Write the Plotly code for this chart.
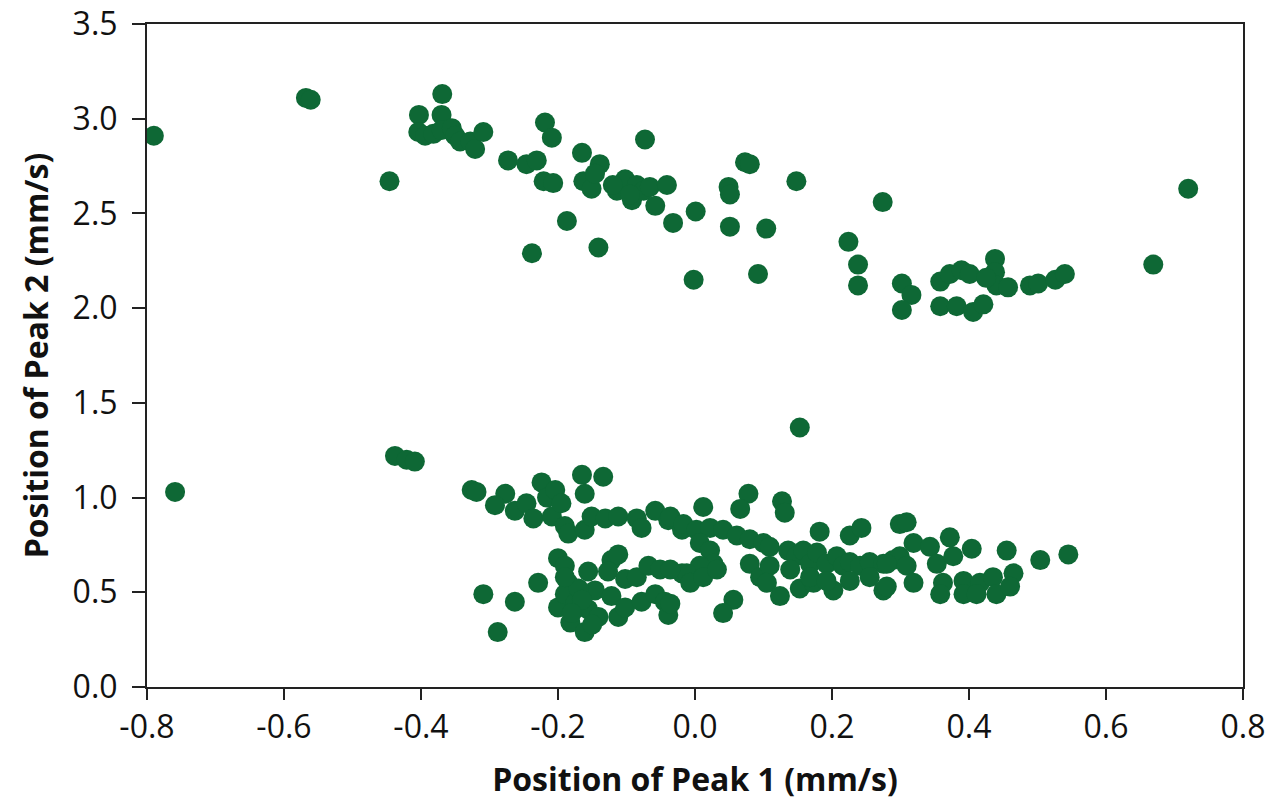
import plotly.graph_objects as go

# Upper group (Peak 2 around 2-3.1 mm/s)
upper_x = [-0.790, -0.568, -0.561, -0.446, -0.369, -0.403, -0.370, -0.404, -0.394, -0.382,
           -0.370, -0.355, -0.350, -0.343, -0.328, -0.321, -0.309, -0.273, -0.246, -0.231,
           -0.219, -0.209, -0.221, -0.207, -0.238, -0.187, -0.165, -0.139, -0.073, -0.163,
           -0.151, -0.146, -0.114, -0.102, -0.092, -0.085, -0.075, -0.066, -0.058, -0.041,
           -0.141, -0.032, 0.001, -0.002, 0.049, 0.051, 0.073, 0.080, 0.051, 0.104,
           0.148, 0.092, 0.274, 0.224, 0.238, 0.238, 0.302, 0.316, 0.302, 0.358,
           0.372, 0.389, 0.401, 0.358, 0.382, 0.406, 0.421, 0.438, 0.438, 0.440,
           0.457, 0.489, 0.501, 0.526, 0.540, 0.669, 0.720, 0.425, -0.120, -0.095]
upper_y = [2.91, 3.11, 3.10, 2.67, 3.13, 3.02, 3.02, 2.93, 2.91, 2.92,
           2.94, 2.95, 2.91, 2.88, 2.88, 2.84, 2.93, 2.78, 2.76, 2.78,
           2.98, 2.90, 2.67, 2.66, 2.29, 2.46, 2.82, 2.76, 2.89, 2.67,
           2.63, 2.71, 2.62, 2.68, 2.57, 2.65, 2.62, 2.64, 2.54, 2.65,
           2.32, 2.45, 2.51, 2.15, 2.64, 2.60, 2.77, 2.76, 2.43, 2.42,
           2.67, 2.18, 2.56, 2.35, 2.23, 2.12, 2.13, 2.07, 1.99, 2.14,
           2.18, 2.20, 2.18, 2.01, 2.01, 1.98, 2.02, 2.26, 2.19, 2.12,
           2.11, 2.12, 2.13, 2.15, 2.18, 2.23, 2.63, 2.16, 2.65, 2.60]

# Lower group (Peak 2 around 0.3-1.4 mm/s)
lower_x = [-0.759, -0.438, -0.421, -0.409, -0.326, -0.319, -0.277, -0.292, -0.263, -0.246,
           -0.236, -0.224, -0.216, -0.204, -0.209, -0.195, -0.190, -0.185, -0.165, -0.161,
           -0.161, -0.134, -0.151, -0.131, -0.112, -0.085, -0.078, -0.058, -0.039, -0.019,
           -0.309, -0.263, -0.288, -0.229, -0.200, -0.190, -0.156, -0.122, -0.112, -0.127,
           -0.102, -0.085, -0.068, -0.051, -0.019, -0.200, -0.185, -0.190, -0.175, -0.182,
           -0.161, -0.156, -0.146, -0.141, -0.122, -0.112, -0.102, -0.078, -0.058, -0.044,
           -0.039, -0.170, -0.165, -0.180, -0.150, -0.190,
           0.153, 0.012, 0.078, 0.066, 0.127, 0.131, -0.036, -0.017, 0.002, 0.022,
           0.041, 0.061, 0.080, 0.100, 0.109, 0.007, 0.022, 0.027, 0.007, -0.012,
           -0.007, 0.012, 0.032, -0.036, -0.036, 0.080, 0.095, 0.109, 0.105, 0.124,
           0.056, 0.041, 0.136, 0.148, 0.158, 0.168, 0.178, 0.192, 0.207, 0.216,
           0.226, 0.241, 0.255, 0.275, 0.289, 0.299, 0.182, 0.226, 0.243, 0.299,
           0.153, 0.173, 0.202, 0.275, 0.139, 0.168, 0.192, 0.226, 0.255,
           0.309, 0.319, 0.343, 0.372, 0.404, 0.455, 0.504, 0.545, 0.280, 0.280,
           0.309, 0.319, 0.353, 0.362, 0.377, 0.358, 0.392, 0.392, 0.416, 0.435,
           0.440, 0.465, 0.460, 0.411]
lower_y = [1.03, 1.22, 1.20, 1.19, 1.04, 1.03, 1.02, 0.96, 0.93, 0.97,
           0.89, 1.08, 1.00, 1.04, 0.90, 0.97, 0.85, 0.81, 1.12, 1.02,
           0.83, 1.11, 0.90, 0.89, 0.90, 0.89, 0.84, 0.93, 0.88, 0.83,
           0.49, 0.45, 0.29, 0.55, 0.68, 0.64, 0.61, 0.67, 0.70, 0.61,
           0.57, 0.58, 0.64, 0.62, 0.60, 0.42, 0.55, 0.49, 0.44, 0.34,
           0.29, 0.41, 0.51, 0.37, 0.48, 0.37, 0.42, 0.45, 0.49, 0.45,
           0.38, 0.52, 0.46, 0.39, 0.33, 0.58,
           1.37, 0.95, 1.02, 0.94, 0.98, 0.92, 0.90, 0.86, 0.83, 0.84,
           0.83, 0.80, 0.78, 0.76, 0.74, 0.76, 0.72, 0.65, 0.64, 0.60,
           0.55, 0.58, 0.62, 0.62, 0.44, 0.65, 0.58, 0.64, 0.55, 0.48,
           0.46, 0.39, 0.72, 0.69, 0.72, 0.65, 0.71, 0.65, 0.69, 0.64,
           0.66, 0.64, 0.66, 0.65, 0.67, 0.69, 0.82, 0.80, 0.84, 0.86,
           0.52, 0.55, 0.51, 0.51, 0.62, 0.58, 0.56, 0.56, 0.58,
           0.87, 0.76, 0.74, 0.79, 0.73, 0.72, 0.67, 0.70, 0.65, 0.53,
           0.64, 0.55, 0.65, 0.55, 0.69, 0.49, 0.56, 0.49, 0.55, 0.58,
           0.49, 0.60, 0.53, 0.49]

x_ticks = [-0.8, -0.6, -0.4, -0.2, 0.0, 0.2, 0.4, 0.6, 0.8]
x_tick_labels = ["-0.8", "-0.6", "-0.4", "-0.2", "0.0", "0.2", "0.4", "0.6", "0.8"]
y_ticks = [0.0, 0.5, 1.0, 1.5, 2.0, 2.5, 3.0, 3.5]
y_tick_labels = ["0.0", "0.5", "1.0", "1.5", "2.0", "2.5", "3.0", "3.5"]

green = "#0e6835"
tick_font = dict(family="Open Sans, Noto Sans, sans-serif", size=32, color="#111111")
title_font = dict(family="Liberation Sans Narrow, Open Sans, sans-serif", size=32, color="#111111", weight="bold")

fig = go.Figure()
fig.add_trace(go.Scatter(x=upper_x + lower_x, y=upper_y + lower_y, mode="markers",
                         marker=dict(size=20, color=green, line=dict(width=0)),
                         showlegend=False, hoverinfo="x+y"))

fig.update_layout(
    width=1268, height=802,
    margin=dict(l=147, r=25, t=24, b=115, autoexpand=False),
    paper_bgcolor="white", plot_bgcolor="white",
)
fig.update_xaxes(
    range=[-0.8, 0.8], tickvals=x_ticks, ticktext=x_tick_labels, automargin=False,
    showgrid=False, zeroline=False, showline=True, linecolor="#222222", linewidth=2,
    mirror=True, ticks="outside", ticklen=11, tickwidth=2, tickcolor="#222222",
    tickfont=tick_font,
    title=dict(text="Position of Peak 1 (mm/s)", font=title_font, standoff=22),
)
fig.update_yaxes(
    range=[0.0, 3.5], tickvals=y_ticks, ticktext=y_tick_labels, automargin=False,
    showgrid=False, zeroline=False, showline=True, linecolor="#222222", linewidth=2,
    mirror=True, ticks="outside", ticklen=13, tickwidth=2, tickcolor="#222222",
    tickfont=tick_font, ticklabelstandoff=8,
    title=dict(text="Position of Peak 2 (mm/s)", font=title_font, standoff=14),
)

fig.write_html("out.html")
